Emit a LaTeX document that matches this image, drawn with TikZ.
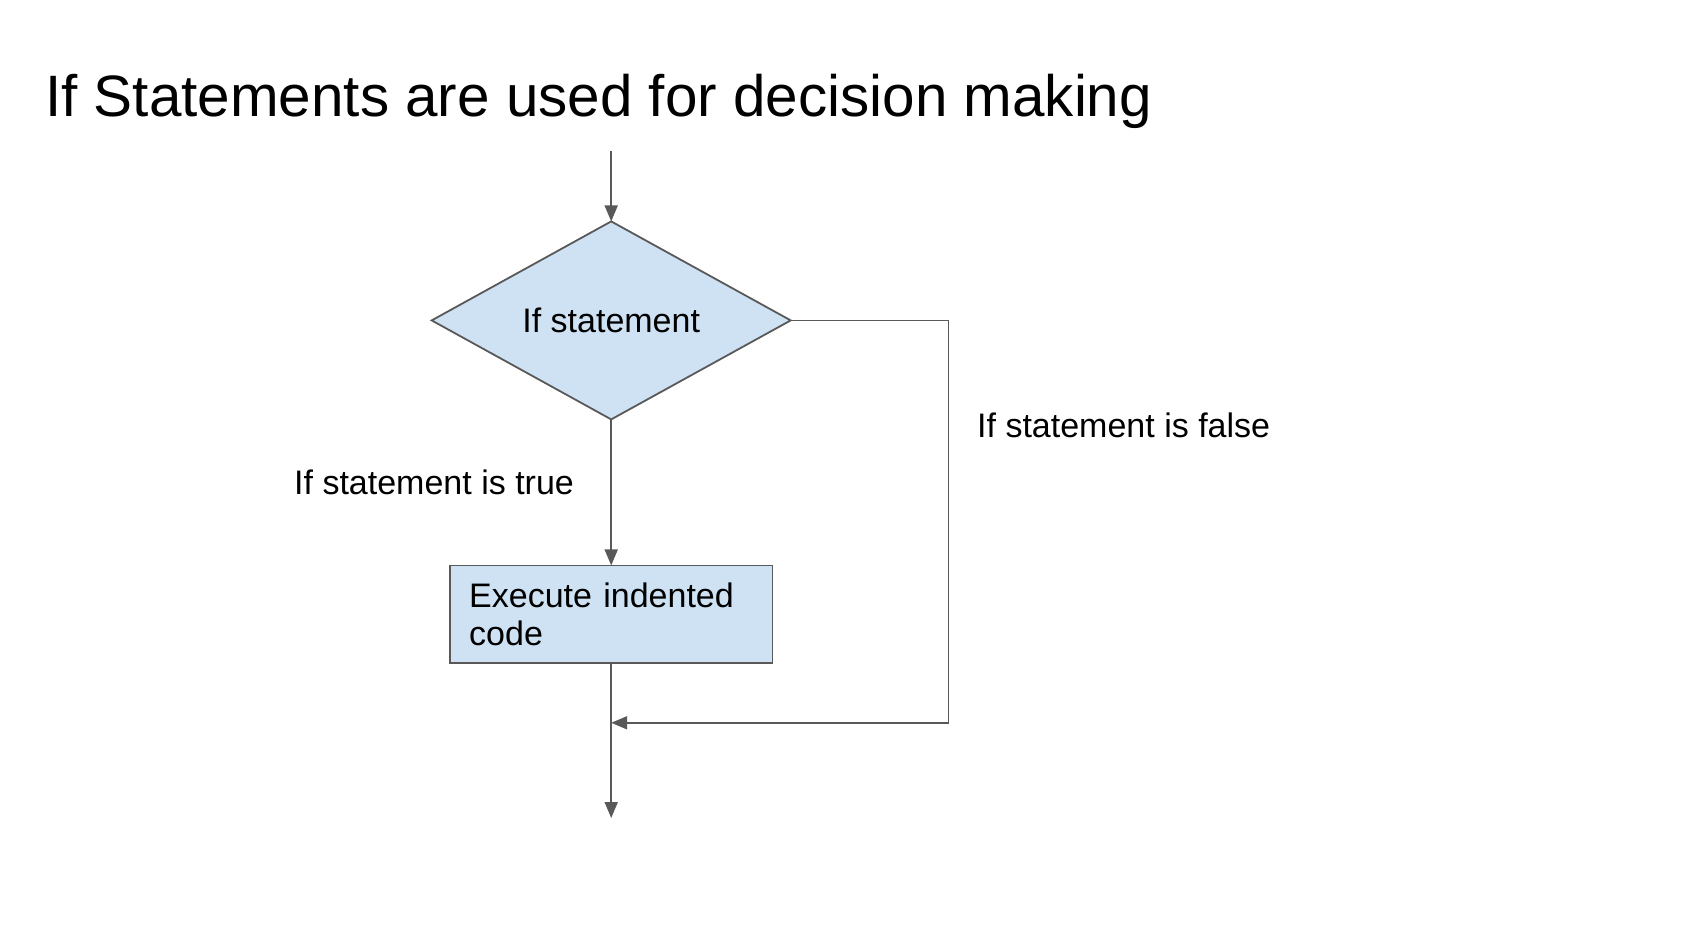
\documentclass[tikz,border=0pt]{standalone}
\usepackage{fontspec}
\setmainfont{Liberation Sans}
\usetikzlibrary{shapes.geometric,arrows.meta}
\definecolor{linegray}{HTML}{595959}
\definecolor{boxblue}{HTML}{CFE2F3}
\tikzset{
  conn/.style={draw=linegray,line width=1.8pt},
  arr/.style={conn,-{Triangle[length=16pt,width=13pt]}},
  decision/.style={diamond,draw=linegray,fill=boxblue,line width=1.8pt,aspect=1.813,
    minimum width=359pt,minimum height=198pt,inner sep=0pt,outer sep=0pt,
    font=\fontsize{34}{40}\selectfont},
  process/.style={rectangle,draw=linegray,fill=boxblue,line width=1.8pt,
    minimum width=322.7pt,minimum height=97.4pt,inner xsep=19pt,inner ysep=0pt,outer sep=0pt,
    text width=284pt,align=left,font=\fontsize{34}{38.5}\selectfont},
  label/.style={inner sep=0pt,anchor=base west,font=\fontsize{34}{40}\selectfont},
  heading/.style={inner sep=0pt,anchor=base west,font=\fontsize{58.4}{70}\selectfont}
}
\begin{document}
\begin{tikzpicture}[x=1pt,y=-1pt]
\useasboundingbox[fill=white] (0,0) rectangle (1706,926);
\node[heading] (title) at (45,116) {If Statements are used for decision making};
\coordinate (start) at (611.2,151);
\node[decision] (dia) at (611.2,320.4) {If statement};
\node[process] (box) at (611.2,614.1) {Execute indented\\code};
\coordinate (corner) at (948.5,320.4);
\coordinate (cornerb) at (948.5,722.8);
\coordinate (merge) at (611.2,722.8);
\coordinate (end) at (611.2,818);
\draw[arr] (start) -- (dia.north);
\draw[arr] (dia.south) -- (box.north);
\draw[conn] (dia.east) -- (corner) -- (cornerb);
\draw[arr] (cornerb) -- (merge);
\draw[arr] (box.south) -- (end);
\node[label] (truelbl) at (294,494) {If statement is true};
\node[label] (falselbl) at (977,437) {If statement is false};
\end{tikzpicture}
\end{document}
